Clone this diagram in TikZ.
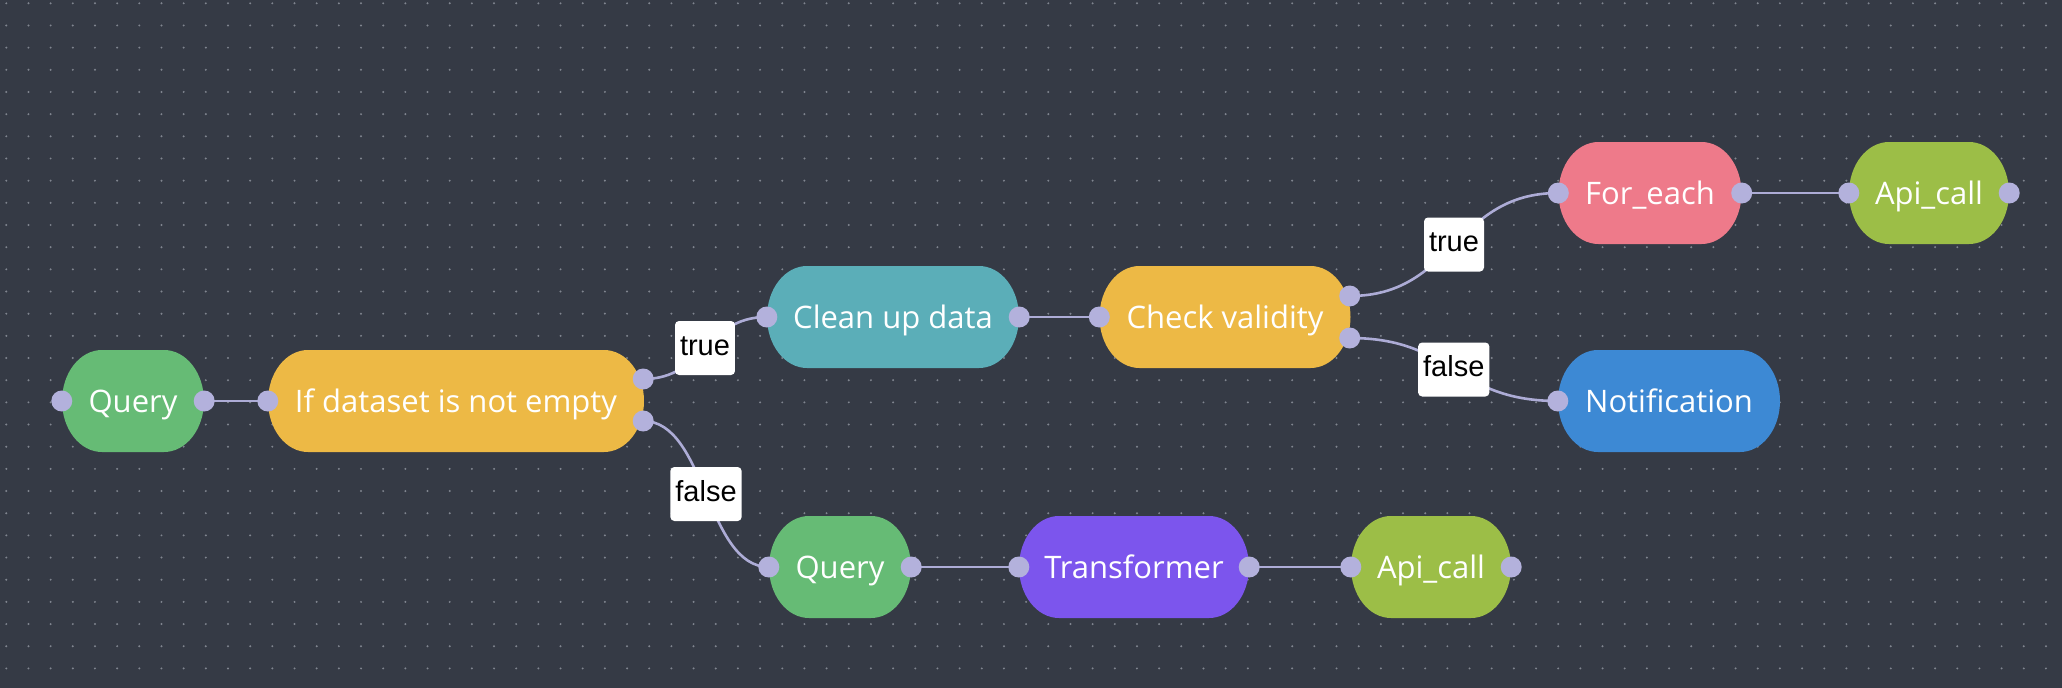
\documentclass[tikz,border=0pt]{standalone}
\usepackage{fontspec}
\setmainfont{Open Sans}
\newfontfamily\lblfont{Liberation Sans}
\usetikzlibrary{calc}

\definecolor{canvasbg}{HTML}{353A45}
\definecolor{griddot}{HTML}{80858F}
\definecolor{cgreen}{HTML}{66BB75}
\definecolor{cyellow}{HTML}{EDB945}
\definecolor{cteal}{HTML}{5BAEB8}
\definecolor{cpink}{HTML}{EE7A8A}
\definecolor{clime}{HTML}{9CBE47}
\definecolor{cblue}{HTML}{3D89D4}
\definecolor{cpurple}{HTML}{7C55ED}
\definecolor{portc}{HTML}{B3B1DC}
\definecolor{edgec}{HTML}{ADACD6}

\tikzset{
  flow/.style={minimum height=102pt, inner sep=0pt, text=white,
    font=\fontsize{31}{31}\selectfont, text height=22pt, text depth=0pt,
    path picture={
      \fill[#1] (path picture bounding box.west)
        arc[start angle=180, end angle=90, x radius=40pt, y radius=51pt]
        -- ([xshift=-40pt]path picture bounding box.north east)
        arc[start angle=90, end angle=-90, x radius=40pt, y radius=51pt]
        -- ([xshift=40pt]path picture bounding box.south west)
        arc[start angle=270, end angle=180, x radius=40pt, y radius=51pt]
        -- cycle;
    }},
  port/.style={circle, fill=portc, minimum size=21pt, inner sep=0pt},
  edge/.style={draw=edgec, line width=2.6pt},
  lbl/.style={pos=0.5, fill=white, rounded corners=4pt, text=black,
    font=\lblfont\fontsize{29}{29}\selectfont, inner xsep=5pt, inner ysep=0pt,
    text height=14pt, text depth=0pt, minimum height=54pt},
  bez/.style={to path={let \p1=(\tikztostart), \p2=(\tikztotarget) in
    .. controls ({(\x1+\x2)/2},\y1) and ({(\x1+\x2)/2},\y2) .. (\tikztotarget) \tikztonodes}}
}

\begin{document}
\begin{tikzpicture}[x=1pt, y=-1pt]
  % canvas and dotted grid
  \fill[canvasbg] (0,0) rectangle (2062,688);
  \useasboundingbox (0,0) rectangle (2062,688);
  \foreach \i in {0,...,92}{
    \foreach \j in {0,...,30}{
      \fill[griddot] ({6.3+22.17*\i},{3.3+22.17*\j}) circle (1.1pt);
    }
  }

  % flow nodes
  \node[flow=cgreen,   minimum width=142pt] (q1)    at (133,401)  {Query};
  \node[flow=cyellow,  minimum width=376pt] (ifn)   at (456,401)  {If dataset is not empty};
  \node[flow=cteal,    minimum width=252pt] (clean) at (893,317)  {Clean up data};
  \node[flow=cyellow,  minimum width=251pt] (chk)   at (1225,317) {Check validity};
  \node[flow=cpink,    minimum width=183pt] (fore)  at (1650,193) {For\_each};
  \node[flow=clime,    minimum width=160pt] (api1)  at (1929,193) {Api\_call};
  \node[flow=cblue,    minimum width=222pt] (notif) at (1669,401) {Notification};
  \node[flow=cgreen,   minimum width=142pt] (q2)    at (840,567)  {Query};
  \node[flow=cpurple,  minimum width=230pt] (tr)    at (1134,567) {Transformer};
  \node[flow=clime,    minimum width=160pt] (api2)  at (1431,567) {Api\_call};

  % connection points (circles drawn last)
  \coordinate (q1in)     at (q1.west);
  \coordinate (q1out)    at (q1.east);
  \coordinate (ifin)     at (ifn.west);
  \coordinate (ifT)      at ([xshift=-1pt,yshift=22pt]ifn.east);
  \coordinate (ifF)      at ([xshift=-1pt,yshift=-20pt]ifn.east);
  \coordinate (cleanin)  at (clean.west);
  \coordinate (cleanout) at (clean.east);
  \coordinate (chkin)    at (chk.west);
  \coordinate (chkT)     at ([xshift=-1pt,yshift=21pt]chk.east);
  \coordinate (chkF)     at ([xshift=-1pt,yshift=-21pt]chk.east);
  \coordinate (forin)    at (fore.west);
  \coordinate (forout)   at (fore.east);
  \coordinate (api1in)   at (api1.west);
  \coordinate (api1out)  at (api1.east);
  \coordinate (notin)    at (notif.west);
  \coordinate (q2in)     at (q2.west);
  \coordinate (q2out)    at (q2.east);
  \coordinate (trin)     at (tr.west);
  \coordinate (trout)    at (tr.east);
  \coordinate (api2in)   at (api2.west);
  \coordinate (api2out)  at (api2.east);

  % connectors
  \draw[edge] (q1out) -- (ifin);
  \draw[edge] (ifT) to[bez] node[lbl] (l1) {true} (cleanin);
  \draw[edge] (ifF) to[bez] node[lbl] (l2) {false} (q2in);
  \draw[edge] (cleanout) -- (chkin);
  \draw[edge] (chkT) to[bez] node[lbl] (l3) {true} (forin);
  \draw[edge] (chkF) to[bez] node[lbl] (l4) {false} (notin);
  \draw[edge] (forout) -- (api1in);
  \draw[edge] (q2out) -- (trin);
  \draw[edge] (trout) -- (api2in);

  % handles
  \foreach \p in {q1in,q1out,ifin,ifT,ifF,cleanin,cleanout,chkin,chkT,chkF,
                  forin,forout,api1in,api1out,notin,q2in,q2out,trin,trout,api2in,api2out}{
    \node[port] (h-\p) at (\p) {};
  }
\end{tikzpicture}
\end{document}
